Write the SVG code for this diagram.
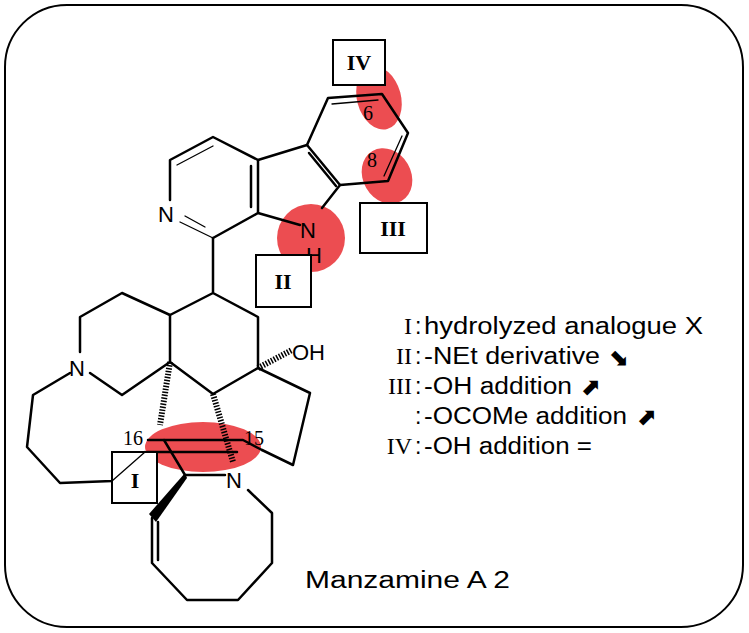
<svg xmlns="http://www.w3.org/2000/svg" width="749" height="633" viewBox="0 0 749 633">
<style>
.b{fill:none;stroke:#000;stroke-width:2.5;stroke-linejoin:round;stroke-linecap:round}
.t{stroke-width:1.3}
.s{font-family:"Liberation Sans",Arial,sans-serif;font-size:21px;fill:#000}
.l{font-family:"Liberation Sans",Arial,sans-serif;font-size:23px;fill:#000}
.a{font-family:"DejaVu Sans",sans-serif;font-size:24px;font-weight:bold;fill:#000}
.r{font-family:"Liberation Serif","Times New Roman",serif;fill:#000}
.box{fill:#fff;stroke:#000;stroke-width:2}
.red{fill:#e8262b;opacity:0.82}
</style>
<rect x="5" y="5" width="738" height="622" rx="62" fill="#fff" stroke="#000" stroke-width="2"/>
<g id="highlights">
<ellipse class="red" cx="379" cy="98" rx="22" ry="32" transform="rotate(-15 379 98)"/>
<ellipse class="red" cx="387" cy="176" rx="24" ry="29" transform="rotate(-30 387 176)"/>
<ellipse class="red" cx="311" cy="238" rx="34" ry="34"/>
<ellipse class="red" cx="203" cy="447" rx="58" ry="25"/>
</g>
<g id="connectors">
<path class="b" d="M213,238 L258,213 L258,160 L213,137 L170,160 L170,200"/>
<path class="b t" d="M177,165 L213,146"/>
<path class="b" d="M251,166 L251,207"/>
<path class="b t" d="M180,222 L213,238"/>
<path class="b t" d="M185,216 L205,227"/>
<path class="b" d="M258,160 L307,145 L340,185 L322,208"/>
<path class="b" d="M258,213 L300,225"/>
<path class="b" d="M309,153 L336,186"/>
<path class="b" d="M307,145 L328,98 L382,94 L408,133 L388,181 L340,185"/>
<path class="b t" d="M332,104 L378,100"/>
<path class="b t" d="M402,136 L384,176"/>
<path class="b" d="M213,238 L213,293 L258,317 L258,368 L213,394 L170,362 L170,315 L213,293"/>
<path class="b" d="M170,315 L122,293 L80,317 L80,352"/>
<path class="b" d="M90,373 L122,395 L170,362"/>
<path class="b" d="M70,373 L33,395 L27,447 L60,483 L112,481 L145,452"/>
<path class="b" d="M258,368 L310,393 L293,465 L262,450"/>
<path class="b" d="M148,440 L243,440 L262,450"/>
<path class="b" d="M147,452 L237,452"/>
<path class="b" d="M164,440 L185,475 L225,475"/>
<path class="b" d="M248,490 L272,513 L272,563 L238,600 L187,600 L152,563 L152,518"/>
<path class="b" d="M158,522 L158,560"/>
<polygon points="185,473 187,478 156,522 149,514" fill="#000"/>
<path d="M258,368 L292,350" stroke="#000" stroke-width="6" stroke-dasharray="1.5,1.5" fill="none"/>
<path d="M170,362 L160,425" stroke="#000" stroke-width="6" stroke-dasharray="1.5,1.5" fill="none"/>
<path d="M213,394 L233,462" stroke="#000" stroke-width="6" stroke-dasharray="1.5,1.5" fill="none"/>
</g>
<g id="atoms" class="s">
<text x="158" y="222" font-size="22">N</text>
<text x="300" y="238" font-size="22">N</text>
<text x="306" y="263" font-size="22">H</text>
<text x="69" y="376" font-size="22">N</text>
<text x="292" y="360" font-size="22">OH</text>
<text x="226" y="488" font-size="22">N</text>
<text class="r" x="123" y="445" font-size="20">16</text>
<text class="r" x="244" y="445" font-size="20">15</text>
<text class="r" x="363" y="120" font-size="20">6</text>
<text class="r" x="367" y="167" font-size="20">8</text>
</g>
<g id="boxIV"><rect class="box" x="333" y="40" width="52" height="45"/><text class="r" x="359" y="70" font-size="22" font-weight="bold" text-anchor="middle">IV</text></g>
<g id="boxIII"><rect class="box" x="360" y="203" width="67" height="50"/><text class="r" x="393" y="236" font-size="22" font-weight="bold" text-anchor="middle">III</text></g>
<g id="boxII"><rect class="box" x="256" y="255" width="55" height="52"/><text class="r" x="283" y="289" font-size="22" font-weight="bold" text-anchor="middle">II</text></g>
<g id="boxI"><rect class="box" x="112" y="452" width="45" height="51"/><path class="b t" d="M112,481 L145,452"/><text class="r" x="135" y="488" font-size="22" font-weight="bold" text-anchor="middle">I</text></g>
<g id="legend">
<text class="r" x="412" y="334" font-size="24" text-anchor="end">I</text>
<text class="l" x="415" y="334">:</text>
<text class="l" x="424" y="334" textLength="279" lengthAdjust="spacingAndGlyphs">hydrolyzed analogue X</text>
<text class="r" x="412" y="364" font-size="24" text-anchor="end">II</text>
<text class="l" x="415" y="364">:</text>
<text class="l" x="424" y="364" textLength="176" lengthAdjust="spacingAndGlyphs">-NEt derivative</text>
<text class="a" x="608" y="365">⬊</text>
<text class="r" x="412" y="394" font-size="24" text-anchor="end">III</text>
<text class="l" x="415" y="394">:</text>
<text class="l" x="424" y="394" textLength="148" lengthAdjust="spacingAndGlyphs">-OH addition</text>
<text class="a" x="580" y="395">⬈</text>
<text class="l" x="415" y="424">:</text>
<text class="l" x="424" y="424" textLength="203" lengthAdjust="spacingAndGlyphs">-OCOMe addition</text>
<text class="a" x="636" y="425">⬈</text>
<text class="r" x="412" y="454" font-size="24" text-anchor="end">IV</text>
<text class="l" x="415" y="454">:</text>
<text class="l" x="424" y="454" textLength="168" lengthAdjust="spacingAndGlyphs">-OH addition =</text>
<text class="l" x="305" y="588" textLength="205" lengthAdjust="spacingAndGlyphs">Manzamine A 2</text>
</g>
</svg>
